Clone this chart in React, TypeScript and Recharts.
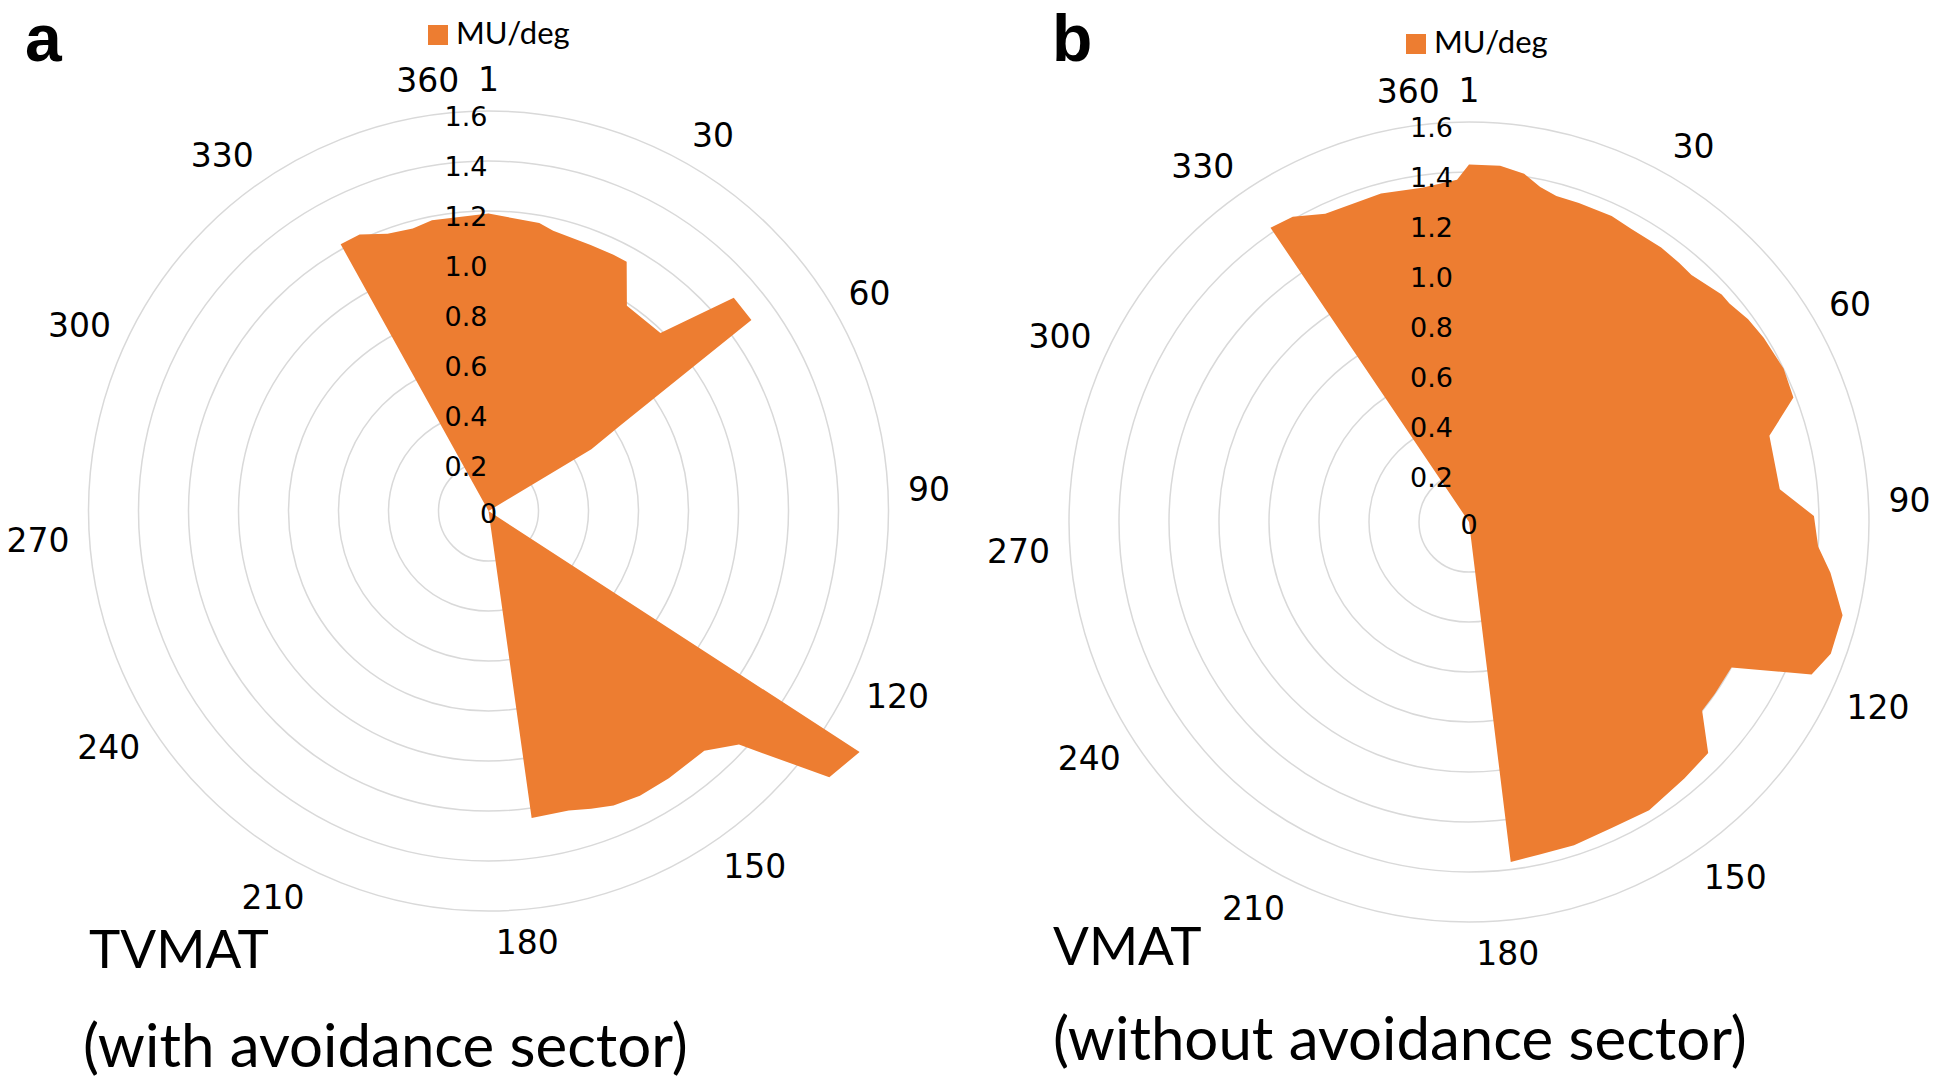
import { RadarChart, Radar, PolarGrid, PolarAngleAxis, PolarRadiusAxis, Legend } from 'recharts';

const ORANGE = '#ED7D31';
const GRID = '#D9D9D9';

// gantry angle (degree category, 1..360) shown around the rim
const angleTicks = [1, 30, 60, 90, 120, 150, 180, 210, 240, 270, 300, 330, 360];
const muTicks = [0, 0.2, 0.4, 0.6, 0.8, 1.0, 1.2, 1.4, 1.6];

// TVMAT (with avoidance sector): MU/deg at the corners of the filled polygon
const tvmatDeg = [1, 11, 14, 22, 27, 30, 35, 45, 50, 55, 58, 60, 61, 123, 124, 129, 134, 139, 147, 153, 158, 162, 166, 173, 174, 331, 332, 336, 341, 346, 350];
const tvmatMu = [1.19, 1.17, 1.15, 1.14, 1.14, 1.14, 0.99, 0.99, 1.3, 1.3, 0.63, 0.48, 0, 0, 1.77, 1.73, 1.37, 1.29, 1.29, 1.29, 1.28, 1.26, 1.24, 1.24, 0, 0, 1.22, 1.22, 1.18, 1.17, 1.185];

// VMAT (without avoidance sector)
const vmatDeg = [1, 6, 10, 13, 16, 20, 26, 30, 36, 40, 43, 49, 51, 55, 59, 65, 70, 75, 85, 90, 95, 99, 105, 111, 115, 120, 126, 130, 135, 141, 149, 156, 163, 169, 174, 175, 326, 327, 331, 336, 346, 353, 359];
const vmatMu = [1.43, 1.43, 1.41, 1.37, 1.35, 1.35, 1.35, 1.34, 1.34, 1.335, 1.33, 1.36, 1.36, 1.38, 1.39, 1.4, 1.39, 1.25, 1.25, 1.38, 1.4, 1.46, 1.54, 1.54, 1.5, 1.2, 1.2, 1.2, 1.33, 1.34, 1.36, 1.35, 1.36, 1.36, 1.37, 0, 0, 1.42, 1.41, 1.36, 1.36, 1.35, 1.37];

const toRows = (deg: number[], mu: number[]) => deg.map((d, i) => ({ deg: d, mu: mu[i] }));

// recharts nices the radius domain to [0, 2] anyway, so set it outright and size
// the radius so that the 1.6 ring (the outermost one drawn) sits at 400px
const MU_MAX = 2;
const RING_R = 400;
const OUTER_R = (RING_R * MU_MAX) / 1.6;

const ANGLE_FONT = 33;
const LABEL_R = 420;

// Excel-ish placement of the rim labels: the label box sits just outside the ring,
// anchored by its side facing the centre; Excel pulls the later ones a bit anticlockwise
const makeAngleTick = (cx: number, cy: number) => (props: any) => {
  const v = Number(props.payload.value);
  const label = String(v);
  const nudge = v < 90 || v === 180 ? 0 : v === 90 ? 2 : 3;
  const th = ((v - 1 - nudge) * Math.PI) / 180;
  const s = Math.sin(th);
  const c = Math.cos(th);
  const hw = label.length * ANGLE_FONT * 0.318;
  const hh = 12;
  const ax = cx + LABEL_R * s;
  const ay = cy - LABEL_R * c;
  const dirX = Math.abs(s) < 1e-6 ? 0 : Math.sign(s);
  const x = ax + hw * dirX;
  const y = ay - hh * c * c * c;
  return (
    <text x={x} y={y} textAnchor="middle" dominantBaseline="central" fontFamily="DejaVu Sans" fontSize={ANGLE_FONT} fill="#000">
      {label}
    </text>
  );
};

const makeMuTick = (shift: number) => (props: any) => {
  const { x, y, payload } = props;
  const v = Number(payload.value);
  const zero = v === 0;
  return (
    <text
      x={zero ? x : x + shift}
      y={zero ? y + 2 : y + 5}
      textAnchor={zero ? 'middle' : 'end'}
      dominantBaseline="central"
      fontFamily="DejaVu Sans"
      fontSize={27}
      fill="#000"
    >
      {zero ? '0' : v.toFixed(1)}
    </text>
  );
};

const renderLegend = (props: any) => {
  const item = props.payload && props.payload[0];
  return (
    <div style={{ display: 'flex', alignItems: 'center', fontFamily: 'Lato', fontSize: 31, lineHeight: 1, color: '#000' }}>
      <span style={{ display: 'inline-block', width: 20, height: 20, background: ORANGE, marginRight: 8, position: 'relative', top: 2 }} />
      <span>{item ? item.value : 'MU/deg'}</span>
    </div>
  );
};

interface PanelProps {
  left: number;
  cx: number;
  cy: number;
  deg: number[];
  mu: number[];
  letter: string;
  title: string;
  subtitle: string;
  muShift: number;
  legendTop: number;
  legendLeft: number;
  letterLeft: number;
  titleLeft: number;
  subLeft: number;
  titleTop: number;
  subTop: number;
}

const Panel = (p: PanelProps) => {
  const rows = toRows(p.deg, p.mu);
  return (
    <div style={{ position: 'absolute', left: p.left, top: 0, width: 973, height: 1080 }}>
      <RadarChart
        width={973}
        height={1080}
        data={rows}
        cx={p.cx}
        cy={p.cy}
        outerRadius={OUTER_R}
        startAngle={90}
        endAngle={-270}
        margin={{ top: 0, right: 0, bottom: 0, left: 0 }}
      >
        <PolarGrid gridType="circle" radialLines={false} stroke={GRID} strokeWidth={1.5} />
        <PolarAngleAxis
          dataKey="deg"
          type="number"
          domain={[1, 361]}
          ticks={angleTicks}
          axisLine={false}
          tickLine={false}
          tick={makeAngleTick(p.cx, p.cy)}
        />
        <Radar
          dataKey="mu"
          name="MU/deg"
          fill={ORANGE}
          fillOpacity={1}
          stroke={ORANGE}
          strokeWidth={0}
          dot={false}
          isAnimationActive={false}
        />
        <PolarRadiusAxis
          angle={90}
          domain={[0, MU_MAX]}
          ticks={muTicks}
          allowDataOverflow
          axisLine={false}
          tickLine={false}
          tick={makeMuTick(p.muShift)}
        />
        <Legend
          layout="horizontal"
          verticalAlign="middle"
          align="center"
          content={renderLegend}
          wrapperStyle={{ top: p.legendTop, left: p.legendLeft, width: 'auto' }}
        />
      </RadarChart>
      <div style={{ position: 'absolute', left: p.letterLeft, top: 1, fontFamily: 'Liberation Sans', fontWeight: 'bold', fontSize: 66, lineHeight: '74px' }}>
        {p.letter}
      </div>
      <div style={{ position: 'absolute', left: p.titleLeft, top: p.titleTop, fontFamily: 'Lato', fontSize: 53, lineHeight: 1, whiteSpace: 'nowrap' }}>
        {p.title}
      </div>
      <div style={{ position: 'absolute', left: p.subLeft, top: p.subTop, fontFamily: 'Lato', fontSize: 60, lineHeight: 1, whiteSpace: 'nowrap' }}>
        {p.subtitle}
      </div>
    </div>
  );
};

export default function App() {
  return (
    <div style={{ position: 'absolute', left: 0, top: 0, width: 1946, height: 1080, background: '#fff', overflow: 'hidden' }}>
      <Panel
        left={0}
        cx={488.5}
        cy={511}
        deg={tvmatDeg}
        mu={tvmatMu}
        letter="a"
        title="TVMAT"
        subtitle="(with avoidance sector)"
        muShift={-1}
        legendTop={17}
        legendLeft={428}
        letterLeft={25}
        titleLeft={89}
        subLeft={83}
        titleTop={921}
        subTop={1014}
      />
      <Panel
        left={973}
        cx={496}
        cy={522}
        deg={vmatDeg}
        mu={vmatMu}
        letter="b"
        title="VMAT"
        subtitle="(without avoidance sector)"
        muShift={-16}
        legendTop={26}
        legendLeft={433}
        letterLeft={79}
        titleLeft={80}
        subLeft={80}
        titleTop={918}
        subTop={1007}
      />
    </div>
  );
}
